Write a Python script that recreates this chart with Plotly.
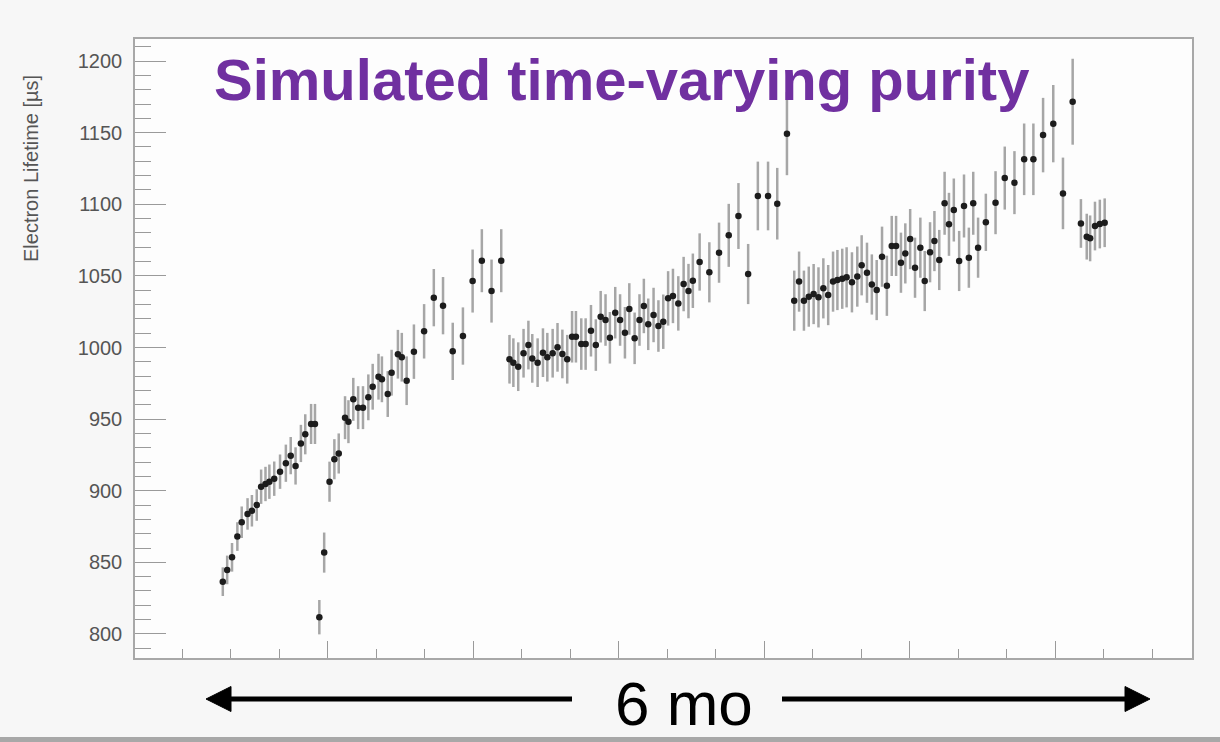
import plotly.graph_objects as go

# ---- data (day index, electron lifetime [us], error) ----
days = [8.4, 9.3, 10.3, 11.4, 12.3, 13.5, 14.4, 15.4, 16.3, 17.2, 18.0, 19.0, 20.2, 21.4, 22.4, 23.4,
        24.5, 25.4, 26.6, 27.4, 28.3, 29.3, 30.4, 31.4, 32.3, 33.6, 34.3, 35.3, 36.3, 37.3, 38.4, 39.3,
        40.5, 41.2, 42.4, 43.2, 44.5, 45.3, 46.3, 47.8, 49.9, 51.9, 53.8, 55.8, 57.9, 59.9, 61.8, 63.8,
        65.8,
        67.5, 68.3, 69.3, 70.4, 71.4, 72.2, 73.3, 74.4, 75.3, 76.4, 77.4, 78.4, 79.4, 80.4, 81.2, 82.3,
        83.2, 84.3, 85.3, 86.3, 87.3, 88.2, 89.3, 90.3, 91.3, 92.2, 93.3, 94.3, 95.2, 96.1, 97.2, 98.2,
        99.2, 100.2, 101.2, 102.3, 103.4, 104.4, 105.3, 106.7, 108.7, 110.7, 112.7, 114.7, 116.7, 118.7,
        120.8, 122.7, 124.7,
        126.2, 127.2, 128.2, 129.2, 130.2, 131.2, 132.2, 133.2, 134.2, 135.1, 136.1, 137.0, 138.1, 139.2,
        140.1, 141.2, 142.2, 143.2, 144.3, 145.3, 146.3, 147.2, 148.2, 149.1, 150.1, 151.1, 152.2, 153.1,
        154.2, 155.1, 156.1, 157.2, 158.1, 159.1, 160.2, 161.2, 162.2, 163.1, 164.1, 165.7, 167.7, 169.6,
        171.6, 173.6, 175.5, 177.5, 179.6, 181.6, 183.6,
        185.3, 186.5, 187.2, 188.2, 189.2, 190.2]

lifetime = [836.5, 844.7, 853.5, 868.0, 878.0, 883.8, 886.0, 890.0, 902.8, 904.7, 906.3, 908.4, 913.3, 919.2, 924.5, 917.3,
            933.0, 939.4, 946.6, 946.6, 811.7, 856.8, 906.3, 922.0, 926.0, 951.0, 948.2, 963.8, 958.0, 958.0, 965.2, 972.6,
            979.6, 977.8, 967.5, 982.4, 995.3, 993.2, 976.8, 997.1, 1011.3, 1034.8, 1029.2, 997.3, 1008.0, 1046.4, 1060.6, 1039.4,
            1060.6,
            991.8, 989.4, 986.6, 996.0, 1001.7, 992.4, 989.4, 996.4, 993.2, 996.0, 1000.1, 995.5, 991.8, 1007.5, 1007.5, 1002.4,
            1002.4, 1011.7, 1001.7, 1021.5, 1019.2, 1006.8, 1024.3, 1019.2, 1010.3, 1026.9, 1006.4, 1019.2, 1029.0, 1016.2, 1022.7, 1015.0,
            1018.0, 1034.3, 1036.0, 1030.8, 1044.3, 1039.4, 1046.6, 1059.7, 1052.5, 1066.2, 1078.3, 1091.8, 1051.3, 1105.8,
            1105.8, 1100.4, 1149.3,
            1032.7, 1046.0, 1032.7, 1035.5, 1037.3, 1035.0, 1041.3, 1036.6, 1046.0, 1047.1, 1048.0, 1049.0, 1045.5, 1049.5,
            1057.4, 1052.2, 1044.0, 1040.1, 1063.4, 1043.1, 1070.9, 1070.9, 1059.2, 1065.7, 1075.7, 1055.7, 1069.7, 1046.4,
            1066.5, 1074.3, 1061.1, 1100.7, 1086.0, 1096.0, 1060.4, 1098.8, 1062.7, 1100.7, 1069.7, 1087.4, 1101.1, 1118.3,
            1115.1, 1131.4, 1131.4, 1148.3, 1156.3, 1107.6, 1171.6,
            1086.6, 1077.4, 1076.2, 1084.8, 1086.2, 1087.1]

lifetime_err = [10, 10, 10, 10, 11, 11, 11, 11, 12, 12, 12, 12, 12, 13, 13, 13,
                13, 14, 14, 14, 12, 14, 14, 14, 14, 15, 15, 15, 15, 15, 16, 16,
                16, 16, 16, 16, 17, 17, 17, 19, 19, 20, 20, 20, 20, 22, 22, 22,
                22,
                17, 17, 17, 17, 17, 17, 17, 17, 17, 17, 17, 17, 17, 18, 18, 18,
                18, 18, 18, 18, 18, 18, 18, 18, 18, 18, 18, 18, 19, 18, 19, 18,
                19, 19, 19, 19, 19, 19, 19, 20, 21, 21, 22, 23, 21, 24,
                24, 25, 29,
                21, 21, 21, 21, 21, 21, 21, 21, 21, 21, 21, 21, 21, 21,
                21, 21, 21, 21, 21, 21, 21, 21, 21, 21, 21, 21, 21, 21,
                21, 21, 21, 22, 22, 22, 21, 22, 21, 22, 21, 20, 22, 22,
                22, 25, 25, 26, 27, 25, 30,
                17, 16, 16, 17, 17, 17]

y_major_ticks = [800, 850, 900, 950, 1000, 1050, 1100, 1150, 1200]
x_major_ticks = [30, 60, 90, 120, 150, 180]

title_text = "Simulated time-varying purity"
span_text = "6 mo"
y_title = "Electron Lifetime [µs]"

# ---- layout geometry (pixels) ----
W, H = 1220, 742
L, R, T, B = 135, 1192, 39, 658


def px(xp, yp):
    return (xp - L) / (R - L), (B - yp) / (B - T)


fig = go.Figure()
fig.add_trace(go.Scatter(
    x=days, y=lifetime, mode="markers",
    marker=dict(color="#1c1c1c", size=6.5),
    error_y=dict(type="data", array=lifetime_err, visible=True,
                 color="#a6a6a6", thickness=2.5, width=0),
    showlegend=False,
))

axis_font = dict(family="Liberation Sans, Arial, sans-serif", size=20, color="#555555")

fig.update_layout(
    width=W, height=H,
    margin=dict(l=L, r=W - R, t=T, b=H - B, pad=0),
    paper_bgcolor="#f7f7f7",
    plot_bgcolor="#fdfdfd",
    font=dict(family="Liberation Sans, Arial, sans-serif"),
    xaxis=dict(range=[-9.7, 208.2], showgrid=False, zeroline=False,
               showline=True, mirror=True, linecolor="#a8a8a8", linewidth=1.5,
               tickmode="array", tickvals=x_major_ticks, ticks="inside",
               ticklen=17, tickcolor="#9a9a9a", tickwidth=1.2,
               showticklabels=False,
               minor=dict(tickmode="linear", tick0=0, dtick=10, ticks="inside",
                          ticklen=9, tickcolor="#9a9a9a", tickwidth=1.2)),
    yaxis=dict(range=[783.2, 1215.4], showgrid=False, zeroline=False,
               showline=True, mirror=True, linecolor="#a8a8a8", linewidth=1.5,
               tickmode="array", tickvals=y_major_ticks, ticks="inside",
               ticklen=31, tickcolor="#9a9a9a", tickwidth=1.2,
               tickfont=axis_font, ticklabelstandoff=7,
               minor=dict(tickmode="linear", tick0=800, dtick=10, ticks="inside",
                          ticklen=16, tickcolor="#9a9a9a", tickwidth=1.2)),
)

annotations = []
tx, ty = px(212, 80)
annotations.append(dict(text=title_text, x=tx, y=ty, xref="paper", yref="paper",
                        xanchor="left", yanchor="middle", showarrow=False,
                        font=dict(family="Liberation Sans, Arial, sans-serif", size=58,
                                  color="#7030a0", weight="bold")))
sx, sy = px(683.5, 703)
annotations.append(dict(text=span_text, x=sx, y=sy, xref="paper", yref="paper",
                        xanchor="center", yanchor="middle", showarrow=False,
                        font=dict(family="Liberation Sans, Arial, sans-serif", size=62,
                                  color="#000000")))
ax_, ay_ = px(31, 168)
annotations.append(dict(text=y_title, x=ax_, y=ay_, xref="paper", yref="paper",
                        xanchor="center", yanchor="middle", showarrow=False, textangle=-90,
                        font=dict(family="Liberation Sans, Arial, sans-serif", size=20,
                                  color="#555555")))
fig.update_layout(annotations=annotations)

shapes = []
# arrow shafts
for x0, x1 in [(226, 572), (782, 1130)]:
    a0, b0 = px(x0, 699)
    a1, b1 = px(x1, 699)
    shapes.append(dict(type="line", xref="paper", yref="paper", x0=a0, y0=b0, x1=a1, y1=b1,
                       line=dict(color="#000000", width=5)))
# arrow heads
for tip, base in [(206, 231), (1150, 1125)]:
    p1 = px(tip, 699)
    p2 = px(base, 686.5)
    p3 = px(base, 711.5)
    path = f"M {p1[0]},{p1[1]} L {p2[0]},{p2[1]} L {p3[0]},{p3[1]} Z"
    shapes.append(dict(type="path", xref="paper", yref="paper", path=path,
                       fillcolor="#000000", line=dict(color="#000000", width=1)))
# grey strip at the bottom edge
g0 = px(0, 737)
g1 = px(W, 742)
shapes.append(dict(type="rect", xref="paper", yref="paper", x0=g0[0], y0=g0[1], x1=g1[0], y1=g1[1],
                   fillcolor="#a8a8a8", line=dict(width=0), layer="above"))
fig.update_layout(shapes=shapes)

fig.write_html("out.html")
